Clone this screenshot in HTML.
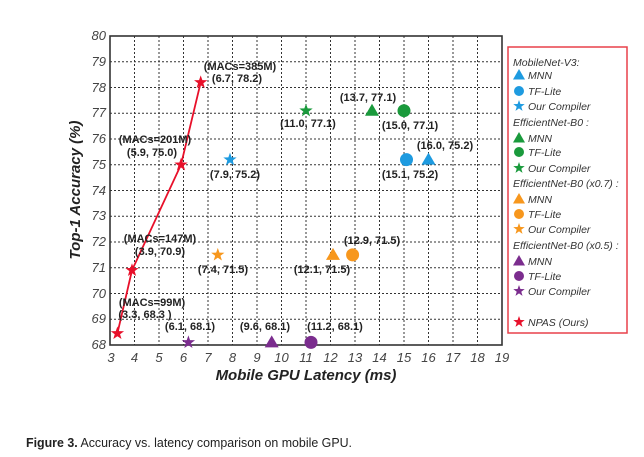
<!DOCTYPE html>
<html><head><meta charset="utf-8"><style>
html,body{margin:0;padding:0;background:#fff;}
svg{display:block;font-family:"Liberation Sans",Arial,sans-serif;}
.tk{font-size:13px;font-style:italic;fill:#444;}
.lb{font-size:11px;font-weight:bold;fill:#222;}
.lg{font-size:10.5px;font-style:italic;fill:#333;}
</style></head><body>
<svg width="644" height="457" viewBox="0 0 644 457" xmlns="http://www.w3.org/2000/svg">
<defs>
<path id="st" d="M0,-7 L1.65,-2.27 6.66,-2.16 2.66,0.87 4.11,5.66 0,2.8 -4.11,5.66 -2.66,0.87 -6.66,-2.16 -1.65,-2.27Z"/>
<path id="tr" d="M0,-7 L7,5 -7,5Z"/>
<path id="sst" d="M0,-6 L1.41,-1.94 5.71,-1.85 2.28,0.75 3.53,4.85 0,2.4 -3.53,4.85 -2.28,0.75 -5.71,-1.85 -1.41,-1.94Z"/>
<path id="str" d="M0,-6 L6,4.5 -6,4.5Z"/>
</defs>
<g stroke="#333" stroke-width="1" stroke-dasharray="2,2">
<line x1="134.5" y1="36" x2="134.5" y2="345"/><line x1="159" y1="36" x2="159" y2="345"/><line x1="183.5" y1="36" x2="183.5" y2="345"/><line x1="208" y1="36" x2="208" y2="345"/><line x1="232.5" y1="36" x2="232.5" y2="345"/><line x1="257" y1="36" x2="257" y2="345"/><line x1="281.5" y1="36" x2="281.5" y2="345"/><line x1="306" y1="36" x2="306" y2="345"/><line x1="330.5" y1="36" x2="330.5" y2="345"/><line x1="355" y1="36" x2="355" y2="345"/><line x1="379.5" y1="36" x2="379.5" y2="345"/><line x1="404" y1="36" x2="404" y2="345"/><line x1="428.5" y1="36" x2="428.5" y2="345"/><line x1="453" y1="36" x2="453" y2="345"/><line x1="477.5" y1="36" x2="477.5" y2="345"/>
<line x1="110" y1="319.25" x2="502" y2="319.25"/><line x1="110" y1="293.5" x2="502" y2="293.5"/><line x1="110" y1="267.75" x2="502" y2="267.75"/><line x1="110" y1="242" x2="502" y2="242"/><line x1="110" y1="216.25" x2="502" y2="216.25"/><line x1="110" y1="190.5" x2="502" y2="190.5"/><line x1="110" y1="164.75" x2="502" y2="164.75"/><line x1="110" y1="139" x2="502" y2="139"/><line x1="110" y1="113.25" x2="502" y2="113.25"/><line x1="110" y1="87.5" x2="502" y2="87.5"/><line x1="110" y1="61.75" x2="502" y2="61.75"/>
</g>
<rect x="110" y="36" width="392" height="309" fill="none" stroke="#333" stroke-width="1.6"/>
<g class="tk" text-anchor="end">
<text x="106" y="349">68</text><text x="106" y="323">69</text><text x="106" y="298">70</text><text x="106" y="272">71</text><text x="106" y="246">72</text><text x="106" y="220">73</text><text x="106" y="195">74</text><text x="106" y="169">75</text><text x="106" y="143">76</text><text x="106" y="117">77</text><text x="106" y="92">78</text><text x="106" y="66">79</text><text x="106" y="40">80</text>
</g>
<g class="tk" text-anchor="middle">
<text x="111" y="362">3</text><text x="134.5" y="362">4</text><text x="159" y="362">5</text><text x="183.5" y="362">6</text><text x="208" y="362">7</text><text x="232.5" y="362">8</text><text x="257" y="362">9</text><text x="281.5" y="362">10</text><text x="306" y="362">11</text><text x="330.5" y="362">12</text><text x="355" y="362">13</text><text x="379.5" y="362">14</text><text x="404" y="362">15</text><text x="428.5" y="362">16</text><text x="453" y="362">17</text><text x="477.5" y="362">18</text><text x="502" y="362">19</text>
</g>
<text x="306" y="380" text-anchor="middle" font-size="15" font-weight="bold" font-style="italic" fill="#222">Mobile GPU Latency (ms)</text>
<text transform="translate(80,190) rotate(-90)" text-anchor="middle" font-size="15" font-weight="bold" font-style="italic" fill="#222">Top-1 Accuracy (%)</text>
<polyline points="117.4,333.4 132,270.3 181,164.75 200.7,82.4" fill="none" stroke="#e8102a" stroke-width="1.8"/>
<g fill="#e8102a"><use href="#st" x="117.4" y="333.4"/><use href="#st" x="132" y="270.3"/><use href="#st" x="181" y="164.75"/><use href="#st" x="200.7" y="82.4"/></g>
<g fill="#1e9be0"><use href="#st" x="230" y="159.6"/><circle cx="406.5" cy="159.6" r="6.5"/><use href="#tr" x="428.5" y="159.6"/></g>
<g fill="#1a9a3c"><use href="#st" x="306" y="110.7"/><use href="#tr" x="372" y="110.7"/><circle cx="404" cy="110.7" r="6.5"/></g>
<g fill="#f7971d"><use href="#st" x="217.8" y="254.9"/><use href="#tr" x="333" y="254.9"/><circle cx="352.6" cy="254.9" r="6.5"/></g>
<g fill="#7b2d8e"><use href="#st" x="188.4" y="342.4"/><use href="#tr" x="271.7" y="342.4"/><circle cx="311" cy="342.4" r="6.5"/></g>
<g class="lb" text-anchor="middle">
<text x="240" y="70">(MACs=385M)</text><text x="237" y="82">(6.7, 78.2)</text>
<text x="155" y="143">(MACs=201M)</text><text x="152" y="156">(5.9, 75.0)</text>
<text x="160" y="242">(MACs=147M)</text><text x="160" y="255">(3.9, 70.9)</text>
<text x="152" y="306">(MACs=99M)</text><text x="145" y="318">(3.3, 68.3 )</text>
<text x="190" y="330">(6.1, 68.1)</text><text x="265" y="330">(9.6, 68.1)</text><text x="335" y="330">(11.2, 68.1)</text>
<text x="223" y="273">(7.4, 71.5)</text><text x="322" y="273">(12.1, 71.5)</text><text x="372" y="244">(12.9, 71.5)</text>
<text x="235" y="178">(7.9, 75.2)</text><text x="410" y="178">(15.1, 75.2)</text><text x="445" y="149">(16.0, 75.2)</text>
<text x="308" y="127">(11.0, 77.1)</text><text x="410" y="129">(15.0, 77.1)</text><text x="368" y="101">(13.7, 77.1)</text>
</g>
<rect x="508" y="47" width="119" height="286" fill="none" stroke="#e8404a" stroke-width="1.5"/>
<g class="lg">
<text x="513" y="66">MobileNet-V3:</text>
<text x="528" y="79">MNN</text><text x="528" y="95">TF-Lite</text><text x="528" y="110">Our Compiler</text>
<text x="513" y="126">EfficientNet-B0 :</text>
<text x="528" y="142">MNN</text><text x="528" y="156">TF-Lite</text><text x="528" y="172">Our Compiler</text>
<text x="513" y="187">EfficientNet-B0 (x0.7) :</text>
<text x="528" y="203">MNN</text><text x="528" y="218">TF-Lite</text><text x="528" y="233">Our Compiler</text>
<text x="513" y="249">EfficientNet-B0 (x0.5) :</text>
<text x="528" y="265">MNN</text><text x="528" y="280">TF-Lite</text><text x="528" y="295">Our Compiler</text>
<text x="528" y="326">NPAS (Ours)</text>
</g>
<g fill="#1e9be0"><use href="#str" x="519" y="75"/><circle cx="519" cy="91" r="5"/><use href="#sst" x="519" y="106"/></g>
<g fill="#1a9a3c"><use href="#str" x="519" y="138"/><circle cx="519" cy="152" r="5"/><use href="#sst" x="519" y="168"/></g>
<g fill="#f7971d"><use href="#str" x="519" y="199"/><circle cx="519" cy="214" r="5"/><use href="#sst" x="519" y="229"/></g>
<g fill="#7b2d8e"><use href="#str" x="519" y="261"/><circle cx="519" cy="276" r="5"/><use href="#sst" x="519" y="291"/></g>
<use href="#sst" x="519" y="322" fill="#e8102a"/>
<text x="26" y="447" font-size="13" fill="#222" textLength="326" lengthAdjust="spacingAndGlyphs"><tspan font-weight="bold">Figure 3.</tspan> Accuracy vs. latency comparison on mobile GPU.</text>
</svg>
</body></html>
